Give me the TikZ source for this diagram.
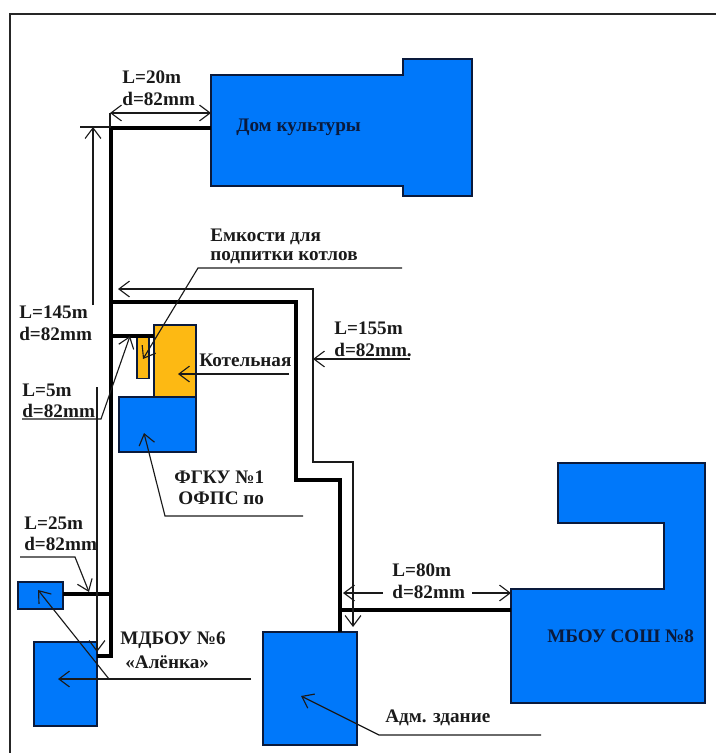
\documentclass[tikz,border=0pt]{standalone}
\usepackage{fontspec}
\setmainfont{Liberation Serif}
\usepackage{xcolor}
\usetikzlibrary{arrows.meta,positioning,calc}
\definecolor{bld}{HTML}{0078FA}
\definecolor{boil}{HTML}{FDB913}
\definecolor{edge}{HTML}{0A1A3C}
\definecolor{ink}{HTML}{1A1A1A}

\begin{document}
\begin{tikzpicture}[
  x=0.02cm, y=-0.02cm,
  font=\fontsize{10.9}{13}\selectfont\bfseries,
  house/.style={draw=edge, line width=1.5pt, fill=#1, inner sep=0pt, outer sep=0pt},
  house/.default=bld,
  pipe/.style={line width=2.2pt, black},
  thin line/.style={line width=0.65pt, ink},
  arr/.style={thin line, -{Straight Barb[length=6pt,width=9pt]}},
  arrs/.style={thin line, {Straight Barb[length=6pt,width=9pt]}-{Straight Barb[length=6pt,width=9pt]}},
  lab/.style={text=ink, inner sep=0pt, anchor=west, align=left}
]
\useasboundingbox (0,0) rectangle (716,753);
% frame
\draw[line width=1.2pt, black!85] (10,753) -- (10,14) -- (716,14);
% buildings
\draw[house] (211,75) -- (403,75) -- (403,59) -- (472,59) -- (472,196) -- (403,196) -- (403,186) -- (211,186) -- cycle;
\draw[house] (558,463) -- (705,463) -- (705,703) -- (511,703) -- (511,589) -- (664,589) -- (664,523) -- (558,523) -- cycle;
\node[house=boil, minimum width=8.4mm, minimum height=14.4mm] (boiler) at (175,361) {};
\node[house=boil, line width=1pt, minimum width=2.4mm, minimum height=8.2mm] (tank) at (143,358) {};
\node[house, minimum width=15.4mm, minimum height=11mm] (fgku) at (157.5,424.5) {};
\node[house, minimum width=9mm, minimum height=5.4mm] (kiosk) at (40.5,595.5) {};
\node[house, minimum width=12.6mm, minimum height=16.8mm] (mdbou) at (65.5,684) {};
\node[house, minimum width=18.8mm, minimum height=22.6mm] (adm) at (310,688.5) {};
\coordinate (dom) at (211,128);
\coordinate (sosh) at (511,610);
% pipes
\coordinate (nw) at (111,128);
\coordinate (j1) at (111,302);
\coordinate (j2) at (111,336);
\coordinate (j3) at (111,594);
\coordinate (sw) at (111,656);
\coordinate (ne) at (296,302);
\coordinate (k1) at (296,480);
\coordinate (k2) at (340,480);
\coordinate (j4) at (340,610);
\draw[pipe] (dom) -- (nw) -- (j1) -- (j2) -- (sw) -- (mdbou.east |- sw);
\draw[pipe] (j2) -- (boiler.west |- j2);
\draw[pipe] (j3) -- (kiosk.east |- j3);
\draw[pipe] (j1) -- (ne) -- (k1) -- (k2) -- (j4) -- (adm.north -| j4);
\draw[pipe] (j4) -- (sosh);
% dimension L=20m
\node[lab] (l20) at (122,77) {L=20m};
\node[lab] (d20) at (122,99) {d=82mm};
\draw[arrs] (110,113) coordinate (a20) -- (211,113) coordinate (b20);
\draw[thin line] (a20) -- (a20 |- nw);
% dimension L=145m
\node[lab] (l145) at (19,312) {L=145m};
\node[lab] (d145) at (19,334) {d=82mm};
\coordinate (t145) at (93,127);
\draw[arr] (93,305) -- (t145);
\draw[thin line] (80,127) -- (109,127);
% dimension L=155m
\node[lab] (l155) at (334,328) {L=155m};
\node[lab] (d155) at (334,350) {d=82mm.};
\coordinate (m155) at (313,359);
\draw[arr] (410,359) -- (m155);
\draw[arr] (m155) -- (313,289) -- (118,289);
\draw[arr] (m155) -- (313,462) -- (353,462) -- (353,627);
% dimension L=80m
\node[lab] (l80) at (392,570) {L=80m};
\node[lab] (d80) at (392,592) {d=82mm};
\draw[arr] (d80.west) ++(-9,1) -- (343,593);
\draw[arr] (d80.east) ++(7,1) -- (511,593);
% dimension L=5m
\node[lab] (l5) at (22,390) {L=5m};
\node[lab] (d5) at (22,411) {d=82mm};
\draw[arr] (22,419) -- (101,419) -- (130,336);
\draw[arr] (97,387) -- (97,652);
% dimension L=25m
\node[lab] (l25) at (24,523) {L=25m};
\node[lab] (d25) at (24,544) {d=82mm};
\draw[arr] (20,557) -- (75,557) -- (89,592);
% captions
\node[lab, text=edge] at (236,127) (domlab) {Дом культуры};
\node[lab] (tank1) at (210,237) {Емкости для};
\node[lab] (tank2) at (210,258) {подпитки котлов};
\draw[arr] (402,268) -- (198,268) -- (143,359);
\node[lab] (boilerlab) at (199,360) {Котельная};
\draw[arr] (289,374) -- (178,374);
\node[lab] (fgku1) at (174,477) {ФГКУ №1};
\node[lab] (fgku2) at (178,498) {ОФПС по};
\draw[arr] (303,516) -- (165,516) -- (144,433);
\node[lab] (mdbou1) at (120,640) {МДБОУ №6};
\node[lab] (mdbou2) at (125,662) {«Алёнка»};
\draw[arr] (251,679) -- (58,679);
\draw[arr] (109,679) -- (38,590);
\node[lab, text=edge] (soshlab) at (547,636) {МБОУ СОШ №8};
\node[lab] (admlab) at (385,718) {Адм. здание};
\draw[arr] (541,735) -- (379,735) -- (301,696);
\end{tikzpicture}
\end{document}
